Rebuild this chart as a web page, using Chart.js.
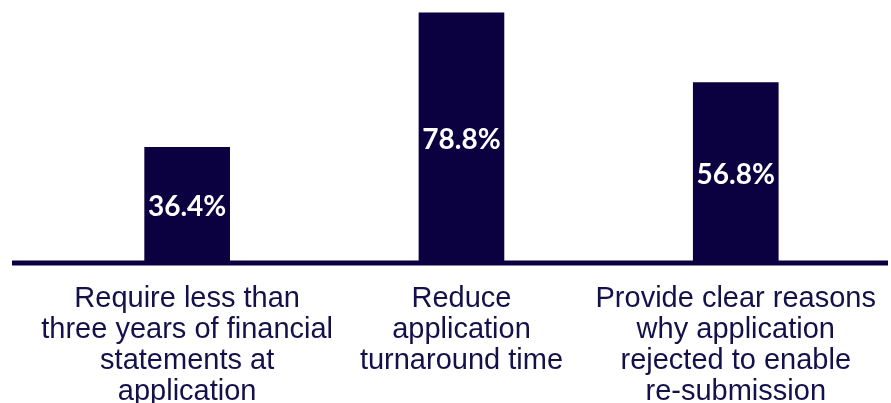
<!DOCTYPE html>
<html>
<head>
<meta charset="utf-8">
<script src="https://cdn.jsdelivr.net/npm/chart.js@4"></script>
<style>
  html, body { margin: 0; padding: 0; background: #ffffff; }
  #wrap { width: 891px; height: 403px; }
</style>
</head>
<body>
<div id="wrap"><canvas id="chart" width="891" height="403"></canvas></div>
<script>
// data
const categories = [
  ["Require less than", "three years of financial", "statements at", "application"],
  ["Reduce", "application", "turnaround time"],
  ["Provide clear reasons", "why application", "rejected to enable", "re-submission"]
];
const values = [36.4, 78.8, 56.8];

const navy = "#0b0040";

// baseline across the whole width, like the original
const baseLine = {
  id: "baseLine",
  afterDatasetsDraw(chart) {
    const ctx = chart.ctx;
    const y = chart.scales.y.getPixelForValue(0);
    ctx.save();
    ctx.strokeStyle = navy;
    ctx.lineWidth = 5;
    ctx.beginPath();
    ctx.moveTo(12, y);
    ctx.lineTo(888, y);
    ctx.stroke();
    ctx.restore();
  }
};

// value labels centred inside each bar
const barLabels = {
  id: "barLabels",
  afterDatasetsDraw(chart) {
    const ctx = chart.ctx;
    const meta = chart.getDatasetMeta(0);
    ctx.save();
    ctx.fillStyle = "#ffffff";
    ctx.font = "bold 28px Lato";
    ctx.textAlign = "center";
    ctx.textBaseline = "middle";
    meta.data.forEach((bar, i) => {
      const { x, y, base } = bar.getProps(["x", "y", "base"], true);
      ctx.fillText(values[i].toFixed(1) + "%", x, (y + base) / 2 + 2);
    });
    ctx.restore();
  }
};

new Chart(document.getElementById("chart"), {
  type: "bar",
  data: {
    labels: categories,
    datasets: [{
      data: values,
      backgroundColor: navy,
      barThickness: 85,
      borderWidth: 0
    }]
  },
  options: {
    responsive: false,
    animation: false,
    layout: { padding: { top: 9, left: 50, right: 12, bottom: -18 } },
    plugins: {
      legend: { display: false },
      tooltip: { enabled: false }
    },
    scales: {
      x: {
        grid: { display: false },
        border: { display: false },
        ticks: {
          color: "#14104a",
          font: { family: "Liberation Sans", size: 29, lineHeight: 1.07 },
          padding: 13,
          maxRotation: 0,
          minRotation: 0,
          autoSkip: false
        }
      },
      y: {
        display: false,
        min: 0,
        max: 80
      }
    }
  },
  plugins: [baseLine, barLabels]
});
</script>
</body>
</html>
